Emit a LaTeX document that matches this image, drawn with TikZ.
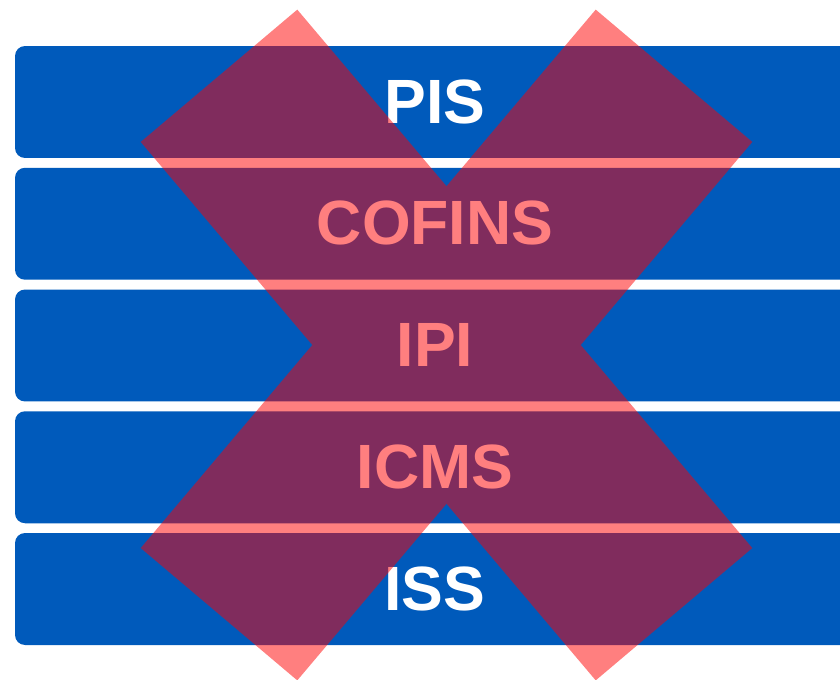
\documentclass[tikz,border=0pt]{standalone}
\usepackage{fontspec}
\setmainfont{Liberation Sans}
\usepackage{xcolor}
\definecolor{barblue}{RGB}{0,90,187}

\begin{document}
\begin{tikzpicture}[x=0.05cm,y=-0.05cm,
		taxbar/.style={fill=barblue, rounded corners=0.5cm, minimum width=42cm, minimum height=5.6cm, inner sep=0pt,
			text=white, font=\fontsize{89}{100}\selectfont\bfseries},
		crossbar/.style={fill=red, minimum width=35.25cm, minimum height=10.25cm, inner sep=0pt}]
		\useasboundingbox (0,0) rectangle (840,680);
		\clip (0,0) rectangle (840,680);
		\foreach \i/\tax in {0/PIS,1/COFINS,2/IPI,3/ICMS,4/ISS}
			\node[taxbar] (\tax) at (435,{102+121.75*\i}) {\raisebox{0.07cm}{\tax}};
		\begin{scope}[transparency group, opacity=0.5]
			\node[crossbar, rotate=-49.8] (armA) at (446.5,345) {};
			\node[crossbar, rotate=49.8] (armB) at (446.5,345) {};
		\end{scope}
		\end{tikzpicture}
\end{document}
